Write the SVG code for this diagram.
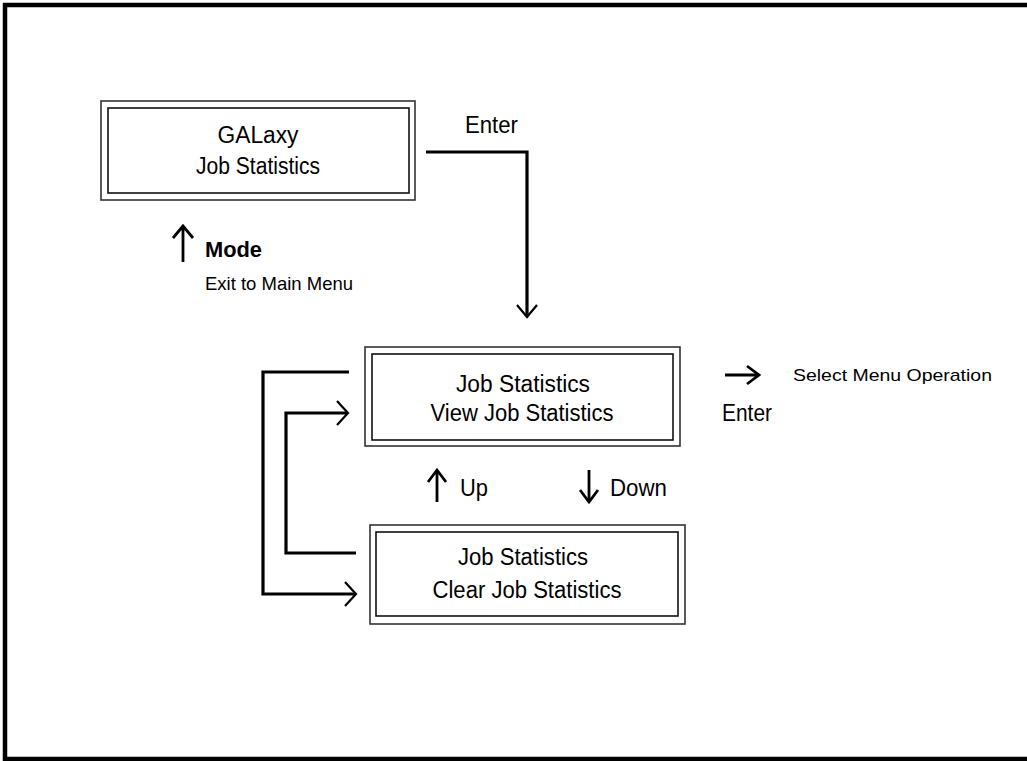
<svg xmlns="http://www.w3.org/2000/svg" width="1027" height="761" viewBox="0 0 1027 761">
<style>
.o{fill:none;stroke:#333;stroke-width:1.6}
.i{fill:none;stroke:#111;stroke-width:1.6}
.c{fill:none;stroke:#000;stroke-width:3.2}
.h{fill:none;stroke:#000;stroke-width:2.2}
.a{fill:none;stroke:#000;stroke-width:2.8}
.t{font-family:"Liberation Sans",Arial,sans-serif;fill:#000;text-anchor:middle}
.l{font-family:"Liberation Sans",Arial,sans-serif;fill:#000}
</style>
<rect width="1027" height="761" fill="#fff"/>
<path d="M1027,5 H5 V759 H1027" fill="none" stroke="#000" stroke-width="4.5"/>
<g id="node-galaxy">
<rect class="o" x="101" y="101" width="314" height="99"/>
<rect class="i" x="108" y="108" width="301" height="85"/>
<text class="t" x="258" y="143" font-size="23" textLength="81" lengthAdjust="spacingAndGlyphs">GALaxy</text>
<text class="t" x="258" y="174" font-size="23" textLength="124" lengthAdjust="spacingAndGlyphs">Job Statistics</text>
</g>
<g id="node-view">
<rect class="o" x="365" y="347" width="315" height="99"/>
<rect class="i" x="372" y="354" width="301" height="86"/>
<text class="t" x="523" y="392" font-size="23" textLength="134" lengthAdjust="spacingAndGlyphs">Job Statistics</text>
<text class="t" x="522" y="421" font-size="23" textLength="183" lengthAdjust="spacingAndGlyphs">View Job Statistics</text>
</g>
<g id="node-clear">
<rect class="o" x="370" y="525" width="315" height="99"/>
<rect class="i" x="376" y="532" width="302" height="84"/>
<text class="t" x="523" y="565" font-size="23" textLength="130" lengthAdjust="spacingAndGlyphs">Job Statistics</text>
<text class="t" x="527" y="598" font-size="23" textLength="189" lengthAdjust="spacingAndGlyphs">Clear Job Statistics</text>
</g>
<g id="connectors">
<path class="c" d="M426,152 H527 V316"/>
<path class="h" d="M517,305 L527,317 L537,305"/>
<path class="c" d="M349,372 H263 V594 H355"/>
<path class="h" d="M345,582 L356,594 L345,606"/>
<path class="c" d="M356,553 H286 V413 H347"/>
<path class="h" d="M337,401 L348,413 L337,425"/>
</g>
<g id="labels">
<text class="l" x="465" y="133" font-size="23" textLength="53" lengthAdjust="spacingAndGlyphs">Enter</text>
<path class="a" d="M183,262 V227 M173,238 L183,226 L193,238"/>
<text class="l" x="205" y="257" font-size="22" font-weight="bold" textLength="57" lengthAdjust="spacingAndGlyphs">Mode</text>
<text class="l" x="205" y="290" font-size="19" fill="#111" textLength="148" lengthAdjust="spacingAndGlyphs">Exit to Main Menu</text>
<path class="a" d="M437,502 V471 M428,482 L437,470 L446,482"/>
<text class="l" x="460" y="496" font-size="23" textLength="28" lengthAdjust="spacingAndGlyphs">Up</text>
<path class="a" d="M589,470 V501 M580,490 L589,502 L598,490"/>
<text class="l" x="610" y="496" font-size="23" textLength="57" lengthAdjust="spacingAndGlyphs">Down</text>
<path class="a" d="M725,375 H758 M747,366 L759,375 L747,384"/>
<text class="l" x="793" y="381" font-size="17" fill="#111" textLength="199" lengthAdjust="spacingAndGlyphs">Select Menu Operation</text>
<text class="l" x="722" y="421" font-size="23" textLength="50" lengthAdjust="spacingAndGlyphs">Enter</text>
</g>
</svg>
